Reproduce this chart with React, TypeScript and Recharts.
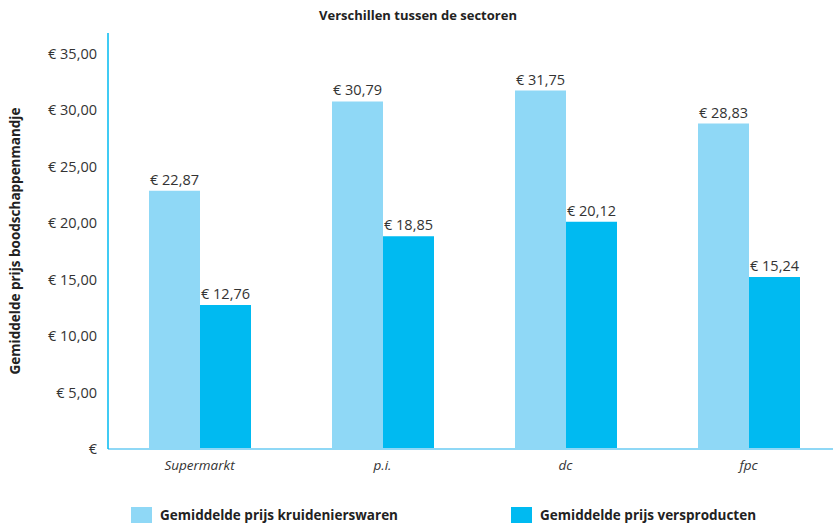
import { BarChart, Bar, XAxis, YAxis, LabelList, Legend } from 'recharts';

// sectoren en gemiddelde prijzen
const sectors = ['Supermarkt', 'p.i.', 'dc', 'fpc'];
const kruidenierswaren = [22.87, 30.79, 31.75, 28.83];
const versproducten = [12.76, 18.85, 20.12, 15.24];
const yTicks = [0, 5, 10, 15, 20, 25, 30, 35];

const LIGHT = '#8fd8f6';
const DARK = '#00baf1';
const FONT = '"Open Sans", "Noto Sans", sans-serif';

const data = sectors.map((s, i) => ({
  sector: s,
  kruid: kruidenierswaren[i],
  vers: versproducten[i],
}));

// non-breaking space, anders breekt Recharts het label af
const euro = (v: number) => (v === 0 ? '€' : `€\u00a0${v.toFixed(2).replace('.', ',')}`);

function LegendContent() {
  const items = [
    { label: 'Gemiddelde prijs kruidenierswaren', color: LIGHT, left: 131 },
    { label: 'Gemiddelde prijs versproducten', color: DARK, left: 511 },
  ];
  return (
    <div style={{ position: 'relative', height: 20 }}>
      {items.map((it) => (
        <div
          key={it.label}
          style={{ position: 'absolute', left: it.left, top: 0, display: 'flex', alignItems: 'center' }}
        >
          <span style={{ width: 21, height: 17, background: it.color, display: 'inline-block', marginRight: 8 }} />
          <span style={{ fontFamily: FONT, fontWeight: 700, fontSize: 13.5, color: '#222' }}>{it.label}</span>
        </div>
      ))}
    </div>
  );
}

function YLabel({ viewBox }: any) {
  const cy = viewBox.y + viewBox.height / 2;
  return (
    <text
      x={15}
      y={cy}
      transform={`rotate(-90, 15, ${cy})`}
      textAnchor="middle"
      dominantBaseline="central"
      fontFamily={FONT}
      fontWeight={700}
      fontSize={13.5}
      fill="#222"
    >
      Gemiddelde prijs boodschappenmandje
    </text>
  );
}

export default function App() {
  return (
    <div style={{ position: 'absolute', left: 0, top: 0, width: 833, height: 523, overflow: 'hidden', background: '#fff' }}>
      <div
        style={{
          position: 'absolute',
          top: 6,
          left: 0,
          width: 836,
          textAlign: 'center',
          fontFamily: FONT,
          fontWeight: 700,
          fontSize: 13,
          color: '#222',
        }}
      >
        Verschillen tussen de sectoren
      </div>
      <BarChart
        width={845}
        height={523}
        data={data}
        margin={{ top: 33, right: 5, left: 0, bottom: 24 }}
        barGap={0}
        barSize={51}
      >
        <XAxis
          dataKey="sector"
          height={30}
          axisLine={{ stroke: '#8fd8f6', strokeWidth: 2 }}
          tickLine={false}
          tickMargin={5}
          tick={{ fontFamily: FONT, fontSize: 13.5, fontStyle: 'italic', fill: '#333' }}
        />
        <YAxis
          width={108}
          domain={[0, 36.85]}
          ticks={yTicks}
          tickFormatter={euro}
          axisLine={{ stroke: '#00baf1', strokeWidth: 1.5 }}
          tickLine={false}
          tickMargin={5}
          tick={{ fontFamily: FONT, fontSize: 14.5, fill: '#333' }}
          label={<YLabel />}
        />
        <Legend
          verticalAlign="bottom"
          content={<LegendContent />}
          wrapperStyle={{ left: 0, width: 833, bottom: -3 }}
        />
        <Bar dataKey="kruid" fill={LIGHT} isAnimationActive={false}>
          <LabelList
            dataKey="kruid"
            position="top"
            offset={6}
            formatter={(v: number) => euro(v)}
            style={{ fontFamily: FONT, fontSize: 14.5, fill: '#333' }}
          />
        </Bar>
        <Bar dataKey="vers" fill={DARK} isAnimationActive={false}>
          <LabelList
            dataKey="vers"
            position="top"
            offset={6}
            formatter={(v: number) => euro(v)}
            style={{ fontFamily: FONT, fontSize: 14.5, fill: '#333' }}
          />
        </Bar>
      </BarChart>
    </div>
  );
}
